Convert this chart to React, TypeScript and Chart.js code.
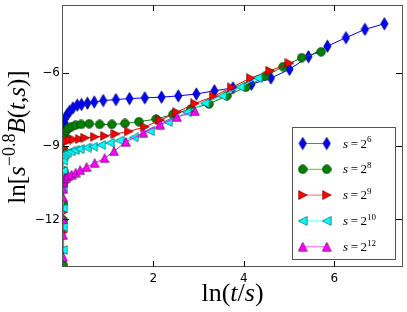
import React, { useEffect, useRef } from 'react';
import { Chart, registerables } from 'chart.js';

Chart.register(...registerables);

// s = 2^6
const s6X = [0.015, 0.031, 0.05, 0.095, 0.148, 0.221, 0.316, 0.41, 0.54, 0.69, 0.89, 1.17, 1.47, 1.81, 2.18, 2.55, 2.95, 3.35, 3.76, 4.17, 4.6, 5.01, 5.43, 5.85, 6.26, 6.68, 7.11];
const s6Y = [-8.29, -8.03, -7.83, -7.69, -7.56, -7.42, -7.31, -7.28, -7.23, -7.18, -7.12, -7.08, -7.04, -7.01, -6.98, -6.93, -6.85, -6.72, -6.6, -6.45, -6.2, -5.84, -5.32, -4.89, -4.54, -4.2, -3.97];
// s = 2^8
const s8X = [0.004, 0.008, 0.011, 0.015, 0.022, 0.038, 0.073, 0.12, 0.19, 0.28, 0.4, 0.58, 0.81, 1.08, 1.37, 1.68, 2.06, 2.43, 2.83, 3.23, 3.63, 4.05, 4.47, 4.87, 5.28, 5.71];
const s8Y = [-13.87, -12.03, -11.34, -10.0, -9.18, -8.57, -8.35, -8.25, -8.19, -8.13, -8.1, -8.07, -8.1, -8.1, -8.06, -7.99, -7.88, -7.69, -7.46, -7.26, -6.92, -6.57, -6.13, -5.73, -5.36, -5.12];
// s = 2^9
const s9X = [0.002, 0.004, 0.006, 0.009, 0.011, 0.022, 0.073, 0.148, 0.24, 0.37, 0.49, 0.7, 0.92, 1.16, 1.45, 1.81, 2.15, 2.52, 2.92, 3.33, 3.73, 4.15, 4.58, 5.01];
const s9Y = [-12.52, -11.7, -10.6, -9.59, -9.06, -8.84, -8.78, -8.75, -8.72, -8.7, -8.65, -8.61, -8.57, -8.49, -8.39, -8.2, -7.93, -7.6, -7.24, -6.95, -6.58, -6.2, -5.9, -5.59];
// s = 2^10
const s10X = [0.001, 0.002, 0.003, 0.004, 0.007, 0.011, 0.018, 0.038, 0.095, 0.17, 0.26, 0.37, 0.52, 0.67, 0.85, 1.04, 1.25, 1.57, 1.92, 2.32, 2.74, 3.14, 3.52, 3.92, 4.31];
const s10Y = [-13.25, -12.31, -11.54, -10.69, -10.0, -9.59, -9.39, -9.3, -9.26, -9.21, -9.15, -9.11, -9.05, -9.01, -8.94, -8.85, -8.76, -8.63, -8.37, -8.0, -7.6, -7.23, -6.93, -6.56, -6.2];
// s = 2^12
const s12X = [0.0002, 0.0005, 0.0007, 0.001, 0.0015, 0.002, 0.005, 0.011, 0.033, 0.077, 0.12, 0.19, 0.28, 0.38, 0.52, 0.7, 0.92, 1.13, 1.39, 1.78, 2.15, 2.52, 2.92];
const s12Y = [-13.53, -12.64, -11.99, -11.09, -10.75, -10.52, -10.45, -10.4, -10.32, -10.28, -10.22, -10.16, -10.08, -9.98, -9.85, -9.69, -9.49, -9.2, -8.82, -8.44, -8.11, -7.8, -7.56];

const xTickValues = [2, 4, 6];
const yTickValues = [-6, -9, -12];
const legendExponents = ['6', '8', '9', '10', '12'];

type Kind = 'diamond' | 'circle' | 'triR' | 'triL' | 'triU';

function makeMarker(kind: Kind, fill: string, edge: string): HTMLCanvasElement {
  const c = document.createElement('canvas');
  let w = 10, h = 10;
  if (kind === 'diamond') { w = 9; h = 14; }
  c.width = w; c.height = h;
  const ctx = c.getContext('2d')!;
  ctx.fillStyle = fill;
  ctx.strokeStyle = edge;
  ctx.lineWidth = 0.7;
  ctx.beginPath();
  const cx = w / 2, cy = h / 2;
  if (kind === 'diamond') {
    ctx.moveTo(cx, cy - 6.2); ctx.lineTo(cx + 3.7, cy); ctx.lineTo(cx, cy + 6.2); ctx.lineTo(cx - 3.7, cy);
  } else if (kind === 'circle') {
    ctx.arc(cx, cy, 4.3, 0, Math.PI * 2);
  } else if (kind === 'triR') {
    ctx.moveTo(cx - 4.2, cy - 4.4); ctx.lineTo(cx + 4.4, cy); ctx.lineTo(cx - 4.2, cy + 4.4);
  } else if (kind === 'triL') {
    ctx.moveTo(cx + 4.2, cy - 4.4); ctx.lineTo(cx - 4.4, cy); ctx.lineTo(cx + 4.2, cy + 4.4);
  } else {
    ctx.moveTo(cx, cy - 4.4); ctx.lineTo(cx + 4.4, cy + 4.2); ctx.lineTo(cx - 4.4, cy + 4.2);
  }
  ctx.closePath();
  ctx.fill();
  ctx.stroke();
  return c;
}

type Seg = { t: string; it?: boolean; sup?: boolean };

function drawSegs(ctx: CanvasRenderingContext2D, segs: Seg[], x: number, y: number, size: number, align: 'center' | 'left') {
  const fam = '"Liberation Serif", "DejaVu Serif", serif';
  const fontOf = (s: Seg) => `${s.it ? 'italic ' : ''}${s.sup ? Math.round(size * 0.7) : size}px ${fam}`;
  const widths = segs.map((s) => { ctx.font = fontOf(s); return ctx.measureText(s.t).width; });
  const total = widths.reduce((a, b) => a + b, 0);
  let cx = align === 'center' ? x - total / 2 : x;
  ctx.textAlign = 'left';
  ctx.textBaseline = 'alphabetic';
  ctx.fillStyle = '#000';
  segs.forEach((s, i) => {
    ctx.font = fontOf(s);
    ctx.fillText(s.t, cx, s.sup ? y - size * 0.4 : y);
    cx += widths[i];
  });
}

export default function App() {
  const ref = useRef<HTMLCanvasElement>(null);
  useEffect(() => {
    document.body.style.margin = '0';
    const series = [
      { xs: s6X, ys: s6Y, color: '#0000ff', edge: '#000060', kind: 'diamond' as Kind },
      { xs: s8X, ys: s8Y, color: '#008000', edge: '#003000', kind: 'circle' as Kind },
      { xs: s9X, ys: s9Y, color: '#ff0000', edge: '#600000', kind: 'triR' as Kind },
      { xs: s10X, ys: s10Y, color: '#00ffff', edge: '#006060', kind: 'triL' as Kind },
      { xs: s12X, ys: s12Y, color: '#ff00ff', edge: '#600060', kind: 'triU' as Kind },
    ];
    const markers = series.map((s) => makeMarker(s.kind, s.color, s.edge));
    const datasets = series.map((s, i) => ({
      label: 's=2^' + legendExponents[i],
      data: s.xs.map((x, j) => ({ x, y: s.ys[j] })),
      showLine: true,
      borderColor: s.color,
      borderWidth: 1,
      pointStyle: markers[i] as any,
      pointRadius: 4,
      pointHoverRadius: 4,
      backgroundColor: s.color,
      clip: 0,
      order: 5 - i,
    }));

    const decor = {
      id: 'decor',
      afterDraw(chart: any) {
        const ctx: CanvasRenderingContext2D = chart.ctx;
        const a = chart.chartArea;
        const xs = chart.scales.x, ys = chart.scales.y;
        ctx.save();
        // frame
        ctx.strokeStyle = '#555';
        ctx.lineWidth = 1;
        ctx.strokeRect(a.left - 0.5, a.top + 0.5, a.right - a.left + 1, a.bottom - a.top - 1);
        // ticks inward
        ctx.strokeStyle = '#000';
        ctx.beginPath();
        const tl = 6;
        xTickValues.forEach((v) => {
          const px = Math.round(xs.getPixelForValue(v)) + 0.5;
          ctx.moveTo(px, a.bottom); ctx.lineTo(px, a.bottom - tl);
          ctx.moveTo(px, a.top); ctx.lineTo(px, a.top + tl);
        });
        yTickValues.forEach((v) => {
          const py = Math.round(ys.getPixelForValue(v)) + 0.5;
          ctx.moveTo(a.left, py); ctx.lineTo(a.left + tl, py);
          ctx.moveTo(a.right, py); ctx.lineTo(a.right - tl, py);
        });
        ctx.stroke();
        // x title
        drawSegs(ctx, [{ t: 'ln' }, { t: '(' }, { t: 't', it: true }, { t: '/' }, { t: 's', it: true }, { t: ')' }], (a.left + a.right) / 2, 301, 26, 'center');
        // y title
        ctx.save();
        ctx.translate(25, (a.top + a.bottom) / 2 + 1);
        ctx.rotate(-Math.PI / 2);
        drawSegs(ctx, [
          { t: 'ln' }, { t: '[' }, { t: 's', it: true }, { t: '\u22120.8', sup: true }, { t: 'B', it: true },
          { t: '(' }, { t: 't', it: true }, { t: ',' }, { t: 's', it: true }, { t: ')' }, { t: ']' },
        ], 0, 0, 25, 'center');
        ctx.restore();
        // legend
        const bx = 292.5, by = 127.5, bw = 103, bh = 132;
        ctx.fillStyle = '#fff';
        ctx.fillRect(bx, by, bw, bh);
        ctx.strokeStyle = '#555';
        ctx.strokeRect(bx, by, bw, bh);
        series.forEach((s, i) => {
          const ry = 143.5 + i * 25.8;
          ctx.strokeStyle = s.color;
          ctx.globalAlpha = 0.6;
          ctx.beginPath();
          ctx.moveTo(302.7, ry); ctx.lineTo(326.7, ry);
          ctx.stroke();
          ctx.globalAlpha = 1;
          const m = markers[i];
          ctx.drawImage(m, 302.7 - m.width / 2, ry - m.height / 2);
          ctx.drawImage(m, 326.7 - m.width / 2, ry - m.height / 2);
          drawSegs(ctx, [{ t: 's', it: true }, { t: '\u2009=\u2009' }, { t: '2' }, { t: legendExponents[i], sup: true }], 343, ry + 4, 13, 'left');
        });
        ctx.restore();
      },
    };

    const chart = new Chart(ref.current!, {
      type: 'scatter',
      data: { datasets: datasets as any },
      options: {
        animation: false,
        responsive: false,
        devicePixelRatio: 1,
        layout: { padding: { left: 0, right: 5, top: 3, bottom: 0 } },
        plugins: { legend: { display: false }, tooltip: { enabled: false }, title: { display: false } },
        scales: {
          x: {
            type: 'linear', min: 0, max: 7.5,
            grid: { display: false, drawTicks: false },
            border: { display: false },
            afterFit: (sc: any) => { sc.height = 45; sc.paddingLeft = 0; sc.paddingRight = 0; },
            afterBuildTicks: (sc: any) => { sc.ticks = xTickValues.map((v) => ({ value: v })); },
            ticks: { autoSkip: false, maxRotation: 0, padding: 5, color: '#000', font: { family: '"DejaVu Sans"', size: 12 }, callback: (v: any) => String(v) },
          },
          y: {
            type: 'linear', min: -13.95, max: -3.2,
            grid: { display: false, drawTicks: false },
            border: { display: false },
            afterFit: (sc: any) => { sc.width = 63; sc.paddingTop = 0; sc.paddingBottom = 0; },
            afterBuildTicks: (sc: any) => { sc.ticks = yTickValues.map((v) => ({ value: v })); },
            ticks: { autoSkip: false, padding: 3, color: '#000', font: { family: '"DejaVu Sans"', size: 12 }, callback: (v: any) => String(v).replace('-', '\u2212') },
          },
        },
      },
      plugins: [decor],
    });
    return () => chart.destroy();
  }, []);
  return <canvas ref={ref} width={407} height={312} style={{ display: 'block' }} />;
}
